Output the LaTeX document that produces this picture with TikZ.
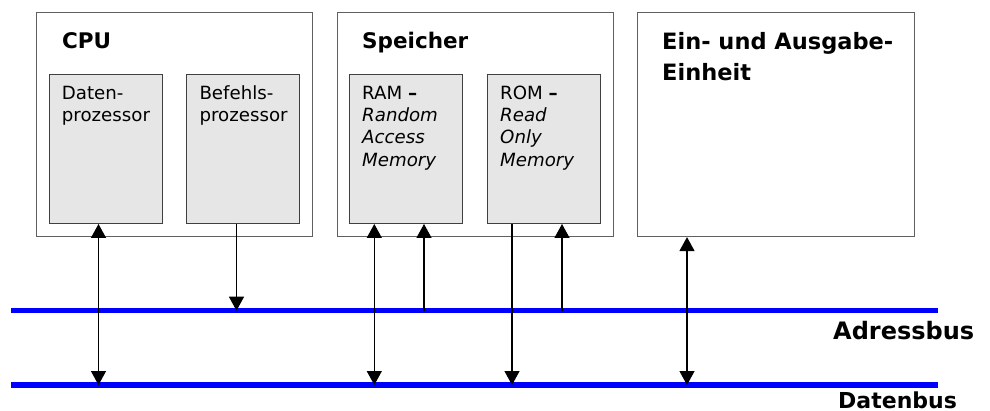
\documentclass[tikz,border=0pt]{standalone}
\usepackage{fontspec}
\setmainfont{DejaVu Sans}
\usetikzlibrary{arrows.meta}
\definecolor{busblue}{HTML}{0000FF}
\definecolor{boxgray}{HTML}{E6E6E6}
\definecolor{edgegray}{HTML}{606060}
\begin{document}
\begin{tikzpicture}[x=1pt,y=-1pt,
  outerbox/.style={draw=edgegray, line width=1.1pt, fill=white, anchor=north west,
    minimum width=276pt, minimum height=224pt, inner sep=0pt},
  unitbox/.style={draw=black!75, line width=1pt, fill=boxgray, anchor=north west,
    minimum width=113.5pt, minimum height=149pt, inner sep=0pt},
  title/.style={anchor=base west, inner sep=0pt, align=left,
    font=\fontsize{21.5}{31.5}\selectfont\bfseries},
  unittext/.style={anchor=base west, inner sep=0pt, align=left,
    font=\fontsize{18.2}{22.3}\selectfont},
  buslabel/.style={anchor=base west, inner sep=0pt, font=\bfseries},
  bus/.style={draw=busblue, line width=5.5pt},
  tipend/.style={draw=black, line width=1.3pt, -{Triangle[length=14pt,width=15pt]}},
  both/.style={draw=black, line width=1.3pt, {Triangle[length=14pt,width=15pt]}-{Triangle[length=14pt,width=15pt]}}]
\useasboundingbox (0,0) rectangle (990,411);

% outer units
\node[outerbox] (cpu) at (36,12) {};
\node[outerbox] (mem) at (336.5,12) {};
\node[outerbox, minimum width=277pt] (io) at (637,12) {};

% inner units
\node[unitbox] (dp) at (48.5,74) {};
\node[unitbox, minimum width=113pt] (bp) at (186,74) {};
\node[unitbox, minimum width=113pt] (ram) at (349,74) {};
\node[unitbox, minimum width=113pt] (rom) at (487,74) {};

% titles (base anchor = baseline of last line)
\node[title] (tcpu) at (62,49) {CPU};
\node[title] (tmem) at (362,49) {Speicher};
\node[title, font=\fontsize{22.5}{31.5}\selectfont\bfseries] (tio) at (662,81) {Ein- und Ausgabe-\\Einheit};

% unit texts (base anchor = baseline of last line)
\node[unittext] (tdp) at (61.7,121.6) {Daten-\\prozessor};
\node[unittext] (tbp) at (199.3,121.6) {Befehls-\\prozessor};
\node[unittext] (tram) at (362,166.2) {RAM {\bfseries –}\\{\itshape Random}\\{\itshape Access}\\{\itshape Memory}};
\node[unittext] (trom) at (500,166.2) {ROM {\bfseries –}\\{\itshape Read}\\{\itshape Only}\\{\itshape Memory}};

% buses
\coordinate (abL) at (11,310.7);
\coordinate (abR) at (938,310.7);
\coordinate (dbL) at (11,385);
\coordinate (dbR) at (938,385);
\draw[bus] (abL) -- (abR);
\draw[bus] (dbL) -- (dbR);
\node[buslabel, font=\fontsize{24}{24}\selectfont\bfseries] (lab) at (833,340) {Adressbus};
\node[buslabel, font=\fontsize{22}{22}\selectfont\bfseries] (ldb) at (838,408) {Datenbus};

% bus taps
\coordinate (t1) at (98.5,385);
\coordinate (t2) at (236.5,310.7);
\coordinate (t3) at (374.3,385);
\coordinate (t4) at (424,310.7);
\coordinate (t5) at (512,385);
\coordinate (t6) at (562,310.7);
\coordinate (t7) at (687,385);

% connectors
\draw[both] (dp.south -| t1) -- (t1);
\draw[tipend] (bp.south -| t2) -- (t2);
\draw[both] (ram.south -| t3) -- (t3);
\draw[tipend] (t4) -- (ram.south -| t4);
\draw[tipend] (rom.south -| t5) -- (t5);
\draw[tipend] (t6) -- (rom.south -| t6);
\draw[both] (io.south -| t7) -- (t7);
\end{tikzpicture}
\end{document}
